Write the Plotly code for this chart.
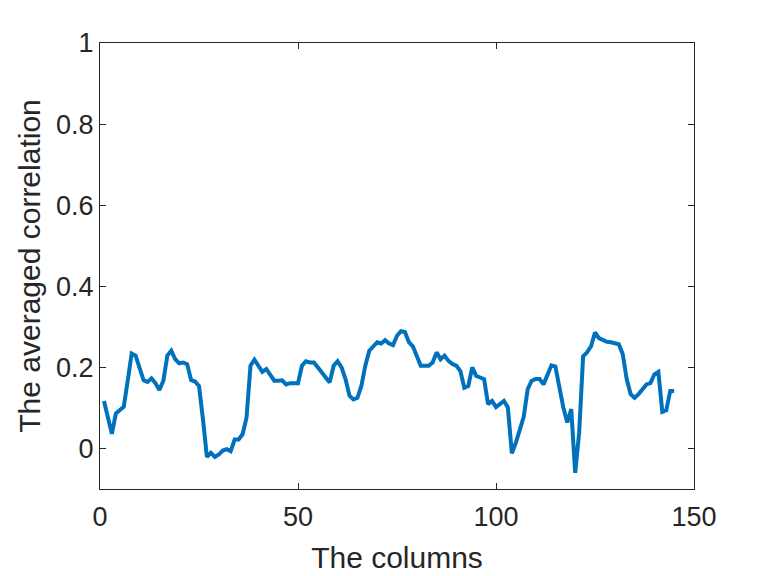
import plotly.graph_objects as go

columns = list(range(1, 146))
avg_corr = [
    0.117, 0.077, 0.036, 0.086, 0.095, 0.103, 0.167, 0.234, 0.229, 0.196,
    0.168, 0.164, 0.173, 0.161, 0.144, 0.167, 0.229, 0.241, 0.220, 0.210,
    0.212, 0.208, 0.169, 0.165, 0.154, 0.072, -0.021, -0.011, -0.021, -0.015,
    -0.005, -0.002, -0.007, 0.022, 0.022, 0.035, 0.076, 0.204, 0.219, 0.204,
    0.189, 0.196, 0.183, 0.167, 0.167, 0.168, 0.158, 0.161, 0.161, 0.161,
    0.204, 0.215, 0.212, 0.212, 0.200, 0.189, 0.175, 0.163, 0.204, 0.215,
    0.200, 0.171, 0.130, 0.121, 0.125, 0.154, 0.204, 0.241, 0.252, 0.262,
    0.259, 0.267, 0.259, 0.255, 0.278, 0.289, 0.287, 0.262, 0.252, 0.229,
    0.204, 0.204, 0.204, 0.212, 0.237, 0.220, 0.229, 0.216, 0.208, 0.204,
    0.191, 0.150, 0.154, 0.200, 0.179, 0.175, 0.171, 0.109, 0.117, 0.102,
    0.109, 0.117, 0.101, -0.012, 0.014, 0.043, 0.078, 0.146, 0.167, 0.171,
    0.171, 0.158, 0.183, 0.205, 0.202, 0.150, 0.101, 0.064, 0.097, -0.060,
    0.039, 0.227, 0.237, 0.252, 0.286, 0.272, 0.267, 0.263, 0.262, 0.260,
    0.257, 0.233, 0.171, 0.134, 0.125, 0.134, 0.146, 0.158, 0.161, 0.183,
    0.189, 0.090, 0.094, 0.142, 0.142,
]
x_ticks = [0, 50, 100, 150]
y_ticks = [0, 0.2, 0.4, 0.6, 0.8, 1]
y_tick_labels = ["0", "0.2", "0.4", "0.6", "0.8", "1"]

ink = "#262626"
font_family = "Liberation Sans, Arial, sans-serif"

fig = go.Figure()
fig.add_trace(go.Scatter(
    x=columns, y=avg_corr, mode="lines",
    line=dict(color="#0072BD", width=4),
    showlegend=False,
))

axis_common = dict(
    showgrid=False, zeroline=False,
    showline=True, linecolor=ink, linewidth=1, mirror="ticks",
    ticks="inside", ticklen=6, tickwidth=1, tickcolor=ink,
    tickfont=dict(family=font_family, size=27, color=ink),
)

fig.update_layout(
    width=768, height=576,
    paper_bgcolor="white", plot_bgcolor="white",
    margin=dict(l=92, r=82, t=35, b=95),
    xaxis=dict(
        range=[0, 150], tickvals=x_ticks, ticklabelstandoff=4,
        title=dict(text="The columns", font=dict(family=font_family, size=30, color=ink), standoff=15),
        **axis_common,
    ),
    yaxis=dict(
        range=[-0.1, 1], tickvals=y_ticks, ticktext=y_tick_labels,
        title=dict(text="The averaged correlation", font=dict(family=font_family, size=30, color=ink), standoff=6),
        **axis_common,
    ),
)

fig.write_html("out.html")
